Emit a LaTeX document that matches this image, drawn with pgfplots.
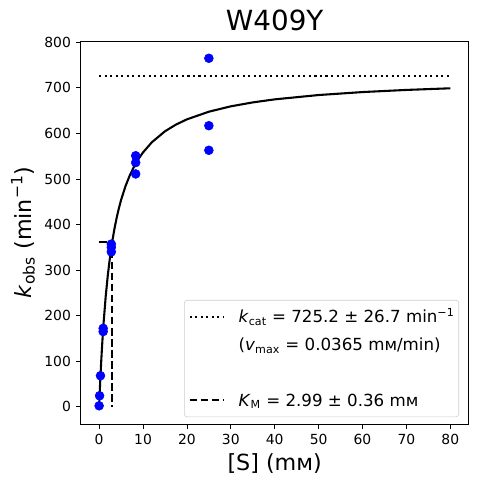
\documentclass[border=0pt]{standalone}
\usepackage{fontspec}
\setmainfont{DejaVu Sans}
\usepackage{pgfplots}
\pgfplotsset{compat=1.18}
\begin{document}
\begin{tikzpicture}
\begin{axis}[
  scale only axis,
  width=279.4pt, height=275.8pt,
  xmin=-4.2, xmax=84.2, ymin=-38, ymax=803,
  xtick={0,10,...,80}, ytick={0,100,...,800},
  tick align=outside, tick pos=left,
  major tick length=3.5pt,
  tick style={black, line width=0.6pt},
  axis line style={line width=0.6pt},
  /pgf/number format/assume math mode=true,
  ticklabel style={font=\fontsize{10}{12}\selectfont},
  title={W409Y},
  title style={font=\fontsize{20}{24}\selectfont, yshift=-2pt},
  xlabel={[S] (mᴍ)},
  ylabel={\textit{k}\textsubscript{obs} (min\textsuperscript{−1})},
  label style={font=\fontsize{16}{19}\selectfont},
  legend cell align=left,
  legend style={at={(1,0)}, anchor=south east, xshift=-7pt, yshift=5pt,
    draw=black!20, rounded corners=2pt, fill=white, fill opacity=0.8, text opacity=1,
    font=\fontsize{12}{14.4}\selectfont, row sep=8.5pt, column sep=9.6pt,
    inner xsep=3pt, inner ysep=6pt, nodes={inner sep=0pt}},
  legend image code/.code={\draw[#1] (0pt,0pt) -- (25pt,0pt);},
]
\addplot[only marks, mark=*, mark size=3.2pt, color=blue, forget plot] coordinates {
(0,2) (0.103,24) (0.309,68) (0.926,165) (0.926,172)
(2.78,340) (2.78,350) (2.78,357)
(8.33,511) (8.33,536) (8.33,551)
(25,563) (25,617) (25,765)
};
\addplot[black, line width=1.5pt, forget plot] coordinates {
(0,0) (0.05,11.9) (0.1,23.5) (0.25,56.0) (0.5,103.9) (0.75,145.4) (1,181.8)
(1.5,242.3) (2,290.7) (2.5,330.2) (3,363.2) (3.5,391.1) (4,415.0) (4.5,435.7)
(5,453.8) (6,484.0) (7,508.2) (8,527.9) (9,544.4) (10,558.3) (12,580.5)
(15,604.7) (17.5,619.4) (20,630.9) (25,647.7) (30,659.5) (35,668.1)
(40,674.8) (50,684.3) (60,690.8) (70,695.5) (80,699.1)
};
\addplot[black, line width=1.5pt, dash pattern=on 1.5pt off 2.475pt] coordinates {(0,725.2) (80,725.2)};
\addlegendentry{\strut\textit{k}\textsubscript{cat} = 725.2 ± 26.7 min\textsuperscript{−1}}
\addlegendimage{empty legend}
\addlegendentry{\strut(\textit{v}\textsubscript{max} = 0.0365 mᴍ/min)}
\addlegendimage{empty legend}
\addlegendentry{\strut}
\addplot[black, line width=1.5pt, dash pattern=on 5.55pt off 2.4pt] coordinates {(0,362.6) (2.99,362.6) (2.99,0)};
\addlegendentry{\strut\textit{K}\textsubscript{M} = 2.99 ± 0.36 mᴍ}
\end{axis}
\pgfresetboundingbox
\path[use as bounding box] ([xshift=-58.1pt,yshift=-43.2pt]current axis.south west) rectangle ++(343.4pt,348.5pt);
\end{tikzpicture}
\end{document}
